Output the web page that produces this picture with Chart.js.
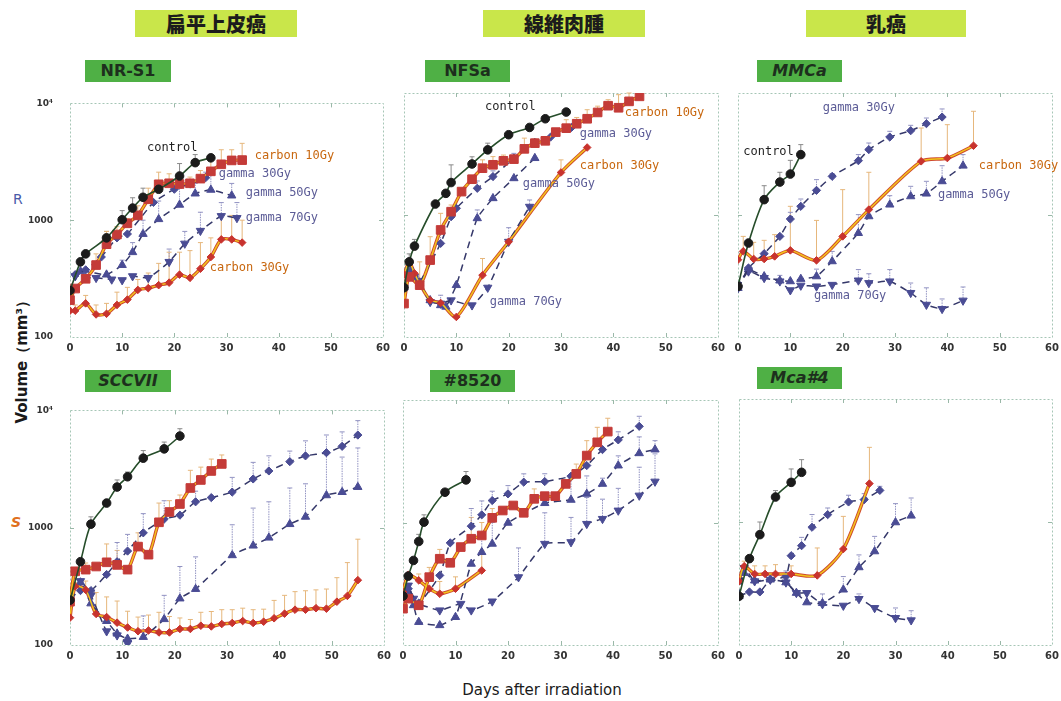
<!DOCTYPE html>
<html><head><meta charset="utf-8">
<script src="https://cdn.jsdelivr.net/npm/chart.js@4.4.1/dist/chart.umd.min.js"></script>
<style>
body{margin:0;background:#fff;width:1061px;height:701px;position:relative;overflow:hidden;font-family:'DejaVu Sans',sans-serif}
canvas.c{position:absolute}
.title{position:absolute;background:#c9e64a;font-family:'Noto Sans CJK JP',sans-serif;font-weight:900;font-size:20px;color:#1c1c1c;text-align:center;height:27px;line-height:27px}
.cell{position:absolute;background:#4fb045;font-family:'DejaVu Sans',sans-serif;font-weight:bold;font-size:16px;color:#1d2f1d;text-align:center;height:22px;line-height:22px}
.txt{position:absolute;white-space:nowrap}
</style></head>
<body>
<div class="title" style="left:135px;top:10px;width:162px">扁平上皮癌</div>
<div class="title" style="left:483px;top:10px;width:162px">線維肉腫</div>
<div class="title" style="left:806px;top:10px;width:160px">乳癌</div>
<div class="cell" style="left:85px;top:60px;width:86px">NR-S1</div>
<div class="cell" style="left:425px;top:60px;width:85px">NFSa</div>
<div class="cell" style="left:757px;top:60px;width:85px;font-style:italic">MMCa</div>
<div class="cell" style="left:85px;top:370px;width:86px;font-style:italic">SCCVII</div>
<div class="cell" style="left:430px;top:370px;width:85px">#8520</div>
<div class="cell" style="left:757px;top:367px;width:85px;font-style:italic">Mca#4</div>
<div class="txt" style="left:-43px;top:349px;width:130px;text-align:center;font-weight:bold;font-size:15px;color:#1a1a1a;transform:rotate(-90deg)">Volume（mm³）</div>
<div class="txt" style="left:13px;top:191px;font-size:14px;color:#4a5aa8">R</div>
<div class="txt" style="left:11px;top:514px;font-size:14px;font-weight:bold;font-style:italic;color:#e07020">S</div>
<div class="txt" style="left:442px;top:681px;width:200px;text-align:center;font-size:15px;color:#1a1a1a">Days after irradiation</div>
<script>
// ---------- NR-S1 ----------
const nrs1_ctrl_d=[0,2,3,7,10,12,14,17,21,24,27];
const nrs1_ctrl_v=[250,440,515,706,1010,1270,1570,1840,2390,3110,3420];
const nrs1_ctrl_e=[null,null,null,802,1208,1556,1880,null,3055,3645,null];
const nrs1_c_d=[0,1,3,5,7,9,11,13,15,17,19,21,23,25,27,29,31,33];
const nrs1_c10_v=[207,260,315,413,623,754,940,1100,1510,2030,2070,2040,2070,2270,2620,3010,3250,3270];
const nrs1_c10_e=[null,null,null,515,802,880,1032,1328,1880,2577,2496,2419,2340,2660,3213,4010,4010,4550];
const nrs1_c30_v=[168,168,194,156,158,188,209,253,262,278,292,342,321,384,484,685,685,643];
const nrs1_c30_e=[null,188,227,188,194,242,266,311,353,427,532,532,549,643,706,1099,1099,1000];
const nrs1_g30_d=[0,1,3,6,9,11,16,20,23,26];
const nrs1_g30_v=[250,342,376,484,706,762,1420,1840,2040,2310];
const nrs1_g30_e=[null,null,null,null,null,null,null,null,null,2577];
const nrs1_g50_d=[0,2,7,10,12,14,17,21,24,27,31];
const nrs1_g50_v=[250,365,342,413,532,762,1020,1355,1690,1820,1625];
const nrs1_g50_e=[null,null,null,455,643,1000,1459,1880,2065,2496,2065];
const nrs1_g70_d=[0,1,3,5,8,10,12,15,19,22,25,29,32];
const nrs1_g70_v=[250,332,321,321,311,307,332,321,440,631,812,1086,1045];
const nrs1_g70_e=[null,null,null,null,null,null,null,null,566,802,1170,1415,1415];
// ---------- NFSa ----------
const nfsa_ctrl_d=[0,1,2,6,8,9,13,16,20,24,27,31];
const nfsa_ctrl_v=[254,413,556,1230,1505,1845,2620,3420,4550,5220,6150,6980];
const nfsa_ctrl_e=[null,480,631,null,null,2577,3000,3880,null,null,null,null];
const nfsa_c10_d=[0,1,3,5,7,9,11,13,15,17,19,21,23,25,27,29,31,33,35,37,39,41,43,45];
const nfsa_c10_v=[188,311,266,427,754,1065,1555,1965,2420,2580,2780,2870,3485,3880,4055,4780,5150,5600,6150,6930,7870,7570,8540,9390];
const nfsa_c10_e=[null,null,413,664,1032,1208,null,null,2831,3011,3100,null,4266,4200,4400,null,6041,6300,7295,7800,8815,9690,10000,null];
const nfsa_c30_d=[0,1,2,3,5,7,10,15,20,30,35];
const nfsa_c30_v=[327,413,332,274,200,190,146,321,604,2230,3575];
const nfsa_c30_e=[null,null,null,null,null,null,null,440,null,2831,null];
const nfsa_g30_d=[0,1,2,3,7,9,10,14,17,21,25,28,32];
const nfsa_g30_v=[254,357,311,283,585,968,1135,1655,2065,2925,3935,4350,5220];
const nfsa_g30_e=[null,null,null,null,700,1150,null,1900,2300,3200,null,null,null];
const nfsa_g50_d=[0,1,2,3,5,7,8,10,14,17,21,25];
const nfsa_g50_v=[254,342,311,274,200,182,177,266,940,1372,2000,2925];
const nfsa_g50_e=[null,null,null,null,null,null,null,null,1100,null,null,null];
const nfsa_g70_d=[0,1,2,3,5,7,9,13,16,20,24];
const nfsa_g70_v=[254,353,311,274,194,188,200,182,254,604,1170];
const nfsa_g70_e=[null,null,null,null,null,220,null,null,null,787,1328];
// ---------- MMCa ----------
const mmca_ctrl_d=[0,2,5,8,10,12];
const mmca_ctrl_v=[260,589,1336,1862,2166,3126];
const mmca_ctrl_e=[null,null,1738,2239,2805,3775];
const mmca_c30_d=[0,1,3,5,7,10,15,20,25,35,40,45];
const mmca_c30_v=[430,504,436,436,458,513,425,668,1107,2755,2931,3697];
const mmca_c30_e=[null,668,597,620,690,1178,903,1614,2239,5162,5500,7080];
const mmca_g30_d=[0,2,5,8,10,12,15,18,23,25,29,33,36,39];
const mmca_g30_v=[252,368,482,668,927,1178,1592,2074,2788,3436,4356,4909,5606,6353];
const mmca_g30_e=[null,null,null,null,1052,1352,1949,2184,3127,3891,4853,5434,6237,7399];
const mmca_g_d=[0,2,5,8,10,12,15,18,23,25,29,33,36,39,43];
const mmca_g50_v=[252,357,314,290,286,299,314,417,711,975,1216,1422,1496,1888,2535];
const mmca_g50_e=[null,null,null,null,null,null,360,503,1007,null,1440,1718,1888,2535,3127];
const mmca_g70_v=[252,345,305,286,242,264,260,268,291,277,286,230,184,170,199];
const mmca_g70_e=[null,null,null,320,null,null,null,null,357,330,357,277,253,205,257];
// ---------- SCCVII ----------
const scc_ctrl_d=[0,2,4,7,9,11,14,18,21];
const scc_ctrl_v=[241,513,1072,1622,2221,2718,3915,4699,6045];
const scc_ctrl_e=[null,null,1238,null,2553,2985,4545,5370,6980];
const scc_c10_d=[0,1,3,5,7,9,11,13,15,17,19,21,23,25,27,29];
const scc_c10_v=[234,425,439,467,507,482,439,690,589,1112,1361,1592,2181,2553,3046,3497];
const scc_c10_e=[null,null,500,null,727,640,null,904,null,1622,1700,1900,3084,3284,3847,4170];
const scc_c30_d=[0,1,3,5,7,9,11,13,15,17,19,21,23,25,27,29,31,33,35,37,39,41,43,45,47,49,51,53,55];
const scc_c30_v=[171,316,295,184,173,155,141,131,133,128,128,137,137,146,144,151,154,160,154,158,169,185,200,200,206,204,234,262,357];
const scc_c30_e=[null,340,351,280,257,237,194,173,180,190,175,170,165,190,193,200,200,206,200,202,240,265,285,290,295,300,375,504,798];
const scc_g30_d=[0,2,4,7,9,11,14,18,21,24,27,31,35,38,42,45,49,52,55];
const scc_g30_v=[249,291,291,399,513,632,904,1185,1279,1663,1806,2011,2603,3046,3657,4097,4359,4940,6163];
const scc_g30_e=[null,null,null,null,748,877,1318,1698,null,2048,null,2685,3606,4097,4500,5500,6170,6560,8183];
const scc_g50_d=[0,2,4,7,9,11,14,18,21,24,31,35,38,42,45,49,52,55];
const scc_g50_v=[249,341,226,160,125,113,117,166,249,300,582,703,822,1072,1238,1888,2011,2221];
const scc_g50_e=[null,null,null,null,null,null,177,265,467,564,1059,1469,1663,2181,2367,4230,4000,4786];
const scc_g70_d=[0,2,4,7,9,11];
const scc_g70_v=[249,351,265,131,121,103];
// ---------- #8520 ----------
const n85_ctrl_d=[0,1,2,3,4,8,12];
const n85_ctrl_v=[251,365,490,700,1007,1767,2227];
const n85_ctrl_e=[null,null,null,800,1155,null,2607];
const n85_c10_d=[0,1,3,5,7,9,11,13,15,17,19,21,23,25,27,29,31,33,35,37,39];
const n85_c10_v=[198,239,211,358,506,469,630,737,784,1092,1253,1377,1200,1560,1641,1641,2066,2493,3518,4515,5522];
const n85_c10_e=[null,null,null,430,603,null,null,1100,1000,1300,null,null,null,1880,null,null,null,3000,4656,5984,7095];
const n85_c30_d=[0,1,3,5,7,10,15];
const n85_c30_v=[271,374,337,288,262,288,406];
const n85_c30_e=[null,null,380,null,330,360,592];
const n85_g30_d=[0,1,3,7,9,13,15,17,20,23,27,32,35,38,41,45];
const n85_g30_v=[251,288,220,370,682,933,1155,1511,1713,2134,2159,2388,2917,3939,4725,6096];
const n85_g30_e=[null,null,null,null,null,1300,1500,1800,2000,2496,2500,null,3000,null,5500,7362];
const n85_g50_d=[0,1,2,3,7,10,13,15,17,20,27,32,35,38,41,45,48];
const n85_g50_v=[251,271,211,154,145,169,460,573,670,994,1439,1531,1713,2066,2917,3674,3939];
const n85_g50_e=[null,null,null,null,null,null,null,800,1000,null,null,2300,2400,2300,3500,5000,4656];
const n85_g70_d=[0,1,2,3,7,11,13,17,22,27,32,35,38,41,45,48];
const n85_g70_v=[251,306,239,217,192,217,192,227,358,670,692,975,1071,1253,1660,2159];
const n85_g70_e=[null,null,null,null,null,null,null,null,620,1200,1100,1600,1550,1900,2826,3632];
// ---------- Mca#4 ----------
const mca_ctrl_d=[0,2,4,7,10,12];
const mca_ctrl_v=[249,504,789,1596,2100,2535];
const mca_ctrl_e=[null,null,1000,1800,2699,3213];
const mca_c30_d=[0,1,3,5,7,10,15,20,25];
const mca_c30_v=[330,437,378,378,378,378,368,603,2052];
const mca_c30_e=[null,480,440,440,450,440,615,1111,4045];
const mca_g30_d=[0,2,4,6,9,10,12,14,17,21,24,27];
const mca_g30_v=[249,270,270,340,361,532,642,906,1148,1455,1521,1807];
const mca_g30_e=[null,null,null,null,null,null,750,1150,1300,1650,1700,1950];
const mca_g_d=[0,1,3,6,9,11,13,16,20,23,26,30,33];
const mca_g50_v=[249,385,334,340,323,265,222,219,282,428,577,993,1125];
const mca_g50_e=[null,null,null,null,400,null,null,260,360,540,764,1410,1567];
const mca_g70_v=[249,423,330,340,323,265,265,215,209,237,200,166,159];
const mca_g70_e=[null,null,null,null,null,null,null,null,null,260,null,200,190];

const Y_TICKS=[100,1000,10000];
const X_TICKS=[0,10,20,30,40,50,60];

const STYLE={
  ctrl:{line:'#264d2a',w:1.6,dash:[],ps:'circle',r:4.3,fill:'#1b1b1b',rot:0,t:0.3,err:'#8a8a8a',edash:[]},
  c10:{line:'#f2c41c',w:1.5,dash:[],ps:'rect',r:6.1,fill:'#c43b38',rot:0,t:0.25,err:'#e6b77c',edash:[],edge:'#cf4a2c'},
  c30:{line:'#f2c41c',w:1.5,dash:[],ps:'rectRot',r:3.8,fill:'#c8332e',rot:0,t:0.25,err:'#e6b77c',edash:[],edge:'#cf4a2c'},
  g30:{line:'#35386a',w:1.5,dash:[7,5],ps:'rectRot',r:4.1,fill:'#4a4c94',rot:0,t:0.15,err:'#9192c2',edash:[1.5,1]},
  g50:{line:'#35386a',w:1.5,dash:[7,5],ps:'triangle',r:4.8,fill:'#4a4c94',rot:0,t:0.15,err:'#9192c2',edash:[1.5,1]},
  g70:{line:'#35386a',w:1.5,dash:[7,5],ps:'triangle',r:4.8,fill:'#4a4c94',rot:180,t:0.15,err:'#9192c2',edash:[1.5,1]}
};
const LABEL_COLOR={ctrl:'#1f1f1f',c:'#c8670f',g:'#5b5b96'};

const PANELS=[
 {x:70,y:93,w:313,h:244,showY:true,series:[
   ['ctrl',nrs1_ctrl_d,nrs1_ctrl_v,nrs1_ctrl_e],['c10',nrs1_c_d,nrs1_c10_v,nrs1_c10_e],['c30',nrs1_c_d,nrs1_c30_v,nrs1_c30_e],
   ['g30',nrs1_g30_d,nrs1_g30_v,nrs1_g30_e],['g50',nrs1_g50_d,nrs1_g50_v,nrs1_g50_e],['g70',nrs1_g70_d,nrs1_g70_v,nrs1_g70_e]],
  labels:[['control','ctrl',14.75,4121],['carbon 10Gy','c',35.4,3540],['gamma 30Gy','g',28.5,2473],['gamma 50Gy','g',33.7,1697],['gamma 70Gy','g',33.7,1038],['carbon 30Gy','c',26.8,389]]},
 {x:404,y:93,w:314,h:244,showY:false,series:[
   ['ctrl',nfsa_ctrl_d,nfsa_ctrl_v,nfsa_ctrl_e],['c10',nfsa_c10_d,nfsa_c10_v,nfsa_c10_e],['c30',nfsa_c30_d,nfsa_c30_v,nfsa_c30_e],
   ['g30',nfsa_g30_d,nfsa_g30_v,nfsa_g30_e],['g50',nfsa_g50_d,nfsa_g50_v,nfsa_g50_e],['g70',nfsa_g70_d,nfsa_g70_v,nfsa_g70_e]],
  labels:[['control','ctrl',15.5,7680],['carbon 10Gy','c',42.2,6850],['gamma 30Gy','g',33.6,4613],['carbon 30Gy','c',33.6,2523],['gamma 50Gy','g',22.7,1795],['gamma 70Gy','g',16.4,194]]},
 {x:738,y:93,w:314,h:244,showY:false,series:[
   ['ctrl',mmca_ctrl_d,mmca_ctrl_v,mmca_ctrl_e],['c30',mmca_c30_d,mmca_c30_v,mmca_c30_e],
   ['g30',mmca_g30_d,mmca_g30_v,mmca_g30_e],['g50',mmca_g_d,mmca_g50_v,mmca_g50_e],['g70',mmca_g_d,mmca_g70_v,mmca_g70_e]],
  labels:[['gamma 30Gy','g',16.2,7540],['control','ctrl',1.0,3280],['carbon 30Gy','c',46.0,2523],['gamma 50Gy','g',38.2,1459],['gamma 70Gy','g',14.5,217]]},
 {x:70,y:400,w:314,h:245,showY:true,series:[
   ['ctrl',scc_ctrl_d,scc_ctrl_v,scc_ctrl_e],['c10',scc_c10_d,scc_c10_v,scc_c10_e],['c30',scc_c30_d,scc_c30_v,scc_c30_e],
   ['g30',scc_g30_d,scc_g30_v,scc_g30_e],['g50',scc_g50_d,scc_g50_v,scc_g50_e],['g70',scc_g70_d,scc_g70_v,null]],labels:[]},
 {x:403,y:400,w:315,h:245,showY:false,series:[
   ['ctrl',n85_ctrl_d,n85_ctrl_v,n85_ctrl_e],['c10',n85_c10_d,n85_c10_v,n85_c10_e],['c30',n85_c30_d,n85_c30_v,n85_c30_e],
   ['g30',n85_g30_d,n85_g30_v,n85_g30_e],['g50',n85_g50_d,n85_g50_v,n85_g50_e],['g70',n85_g70_d,n85_g70_v,n85_g70_e]],labels:[]},
 {x:739,y:399,w:313,h:246,showY:false,series:[
   ['ctrl',mca_ctrl_d,mca_ctrl_v,mca_ctrl_e],['c30',mca_c30_d,mca_c30_v,mca_c30_e],
   ['g30',mca_g30_d,mca_g30_v,mca_g30_e],['g50',mca_g_d,mca_g50_v,mca_g50_e],['g70',mca_g_d,mca_g70_v,mca_g70_e]],labels:[]}
];

const frame={id:'frame',beforeDatasetsDraw(ch){
  const a=ch.chartArea,c=ch.ctx,xs=ch.scales.x,ys=ch.scales.y;
  c.save();c.strokeStyle='#a6c6b6';c.lineWidth=1;c.setLineDash([2,2]);
  c.strokeRect(Math.round(a.left)+0.5,Math.round(a.top)+0.5,Math.round(a.right-a.left),Math.round(a.bottom-a.top));
  c.setLineDash([]);c.strokeStyle='#9ab8a8';
  X_TICKS.slice(1,-1).forEach(v=>{const px=Math.round(xs.getPixelForValue(v))+0.5;
    c.beginPath();c.moveTo(px,a.bottom);c.lineTo(px,a.bottom-4);c.moveTo(px,a.top);c.lineTo(px,a.top+4);c.stroke();});
  const py=Math.round(ys.getPixelForValue(1000))+0.5;
  c.beginPath();c.moveTo(a.left,py);c.lineTo(a.left+4,py);c.moveTo(a.right,py);c.lineTo(a.right-4,py);c.stroke();
  ch.data.datasets.forEach(ds=>{
    if(!ds.errs)return;
    c.strokeStyle=ds.errColor;c.lineWidth=1;c.setLineDash(ds.errDash);
    ds.data.forEach((p,i)=>{const e=ds.errs[i];if(e==null)return;
      const px=xs.getPixelForValue(p.x),y0=ys.getPixelForValue(p.y),y1=ys.getPixelForValue(e);
      c.beginPath();c.moveTo(px,y0);c.lineTo(px,y1);c.stroke();
      c.save();c.setLineDash([]);c.beginPath();c.moveTo(px-2.5,y1);c.lineTo(px+2.5,y1);c.stroke();c.restore();});
  });
  c.restore();
}};

PANELS.forEach(P=>{
  const cv=document.createElement('canvas');cv.className='c';
  const W=P.w+50+16,H=P.h+12+26;
  cv.width=W;cv.height=H;cv.style.left=(P.x-50)+'px';cv.style.top=(P.y-12)+'px';
  cv.style.width=W+'px';cv.style.height=H+'px';
  document.body.appendChild(cv);
  const datasets=[];const edges=[];
  P.series.forEach(([k,d,v,e])=>{const s=STYLE[k];
    const pts=d.map((x,i)=>({x:x,y:v[i]}));
    datasets.push({data:pts,errs:e,errColor:s.err,errDash:s.edash,
      borderColor:s.line,borderWidth:s.w,borderDash:s.dash,tension:s.t,fill:false,
      pointStyle:s.ps,pointRadius:s.r,pointRotation:s.rot,pointBackgroundColor:s.fill,pointBorderColor:s.fill,pointBorderWidth:1});
    if(s.edge)edges.push({data:pts,borderColor:s.edge,borderWidth:3.4,tension:s.t,fill:false,pointRadius:0});
  });
  edges.forEach(x=>datasets.push(x));
  const labelsPlugin={id:'lbl',afterDatasetsDraw(ch){
    const c=ch.ctx;c.save();c.font='12px "DejaVu Sans Mono"';c.textBaseline='middle';c.textAlign='left';
    P.labels.forEach(([t,k,dx,vy])=>{c.fillStyle=LABEL_COLOR[k];
      c.fillText(t,ch.scales.x.getPixelForValue(dx),ch.scales.y.getPixelForValue(vy));});
    c.restore();}};
  new Chart(cv,{type:'line',data:{datasets},plugins:[frame,labelsPlugin],options:{
    responsive:false,animation:false,
    layout:{padding:{top:12,right:16,left:0,bottom:0}},
    plugins:{legend:{display:false},tooltip:{enabled:false}},
    scales:{
      x:{type:'linear',min:0,max:60,afterBuildTicks(s){s.ticks=X_TICKS.map(v=>({value:v}));},
        ticks:{font:{size:10,weight:'bold',family:'DejaVu Sans'},color:'#333',padding:5,maxRotation:0,autoSkip:false},
        grid:{display:false,drawTicks:false},border:{display:false},afterFit(s){s.height=26;}},
      y:{type:'logarithmic',min:100,max:10000,afterBuildTicks(s){s.ticks=Y_TICKS.map(v=>({value:v}));},
        ticks:{display:P.showY,font:{size:9,weight:'bold',family:'DejaVu Sans'},color:'#333',padding:17,autoSkip:false,
          callback:v=>v===10000?'10⁴':String(v)},
        grid:{display:false,drawTicks:false},border:{display:false},afterFit(s){s.width=50;}}
    }}});
});
</script>
</body></html>
